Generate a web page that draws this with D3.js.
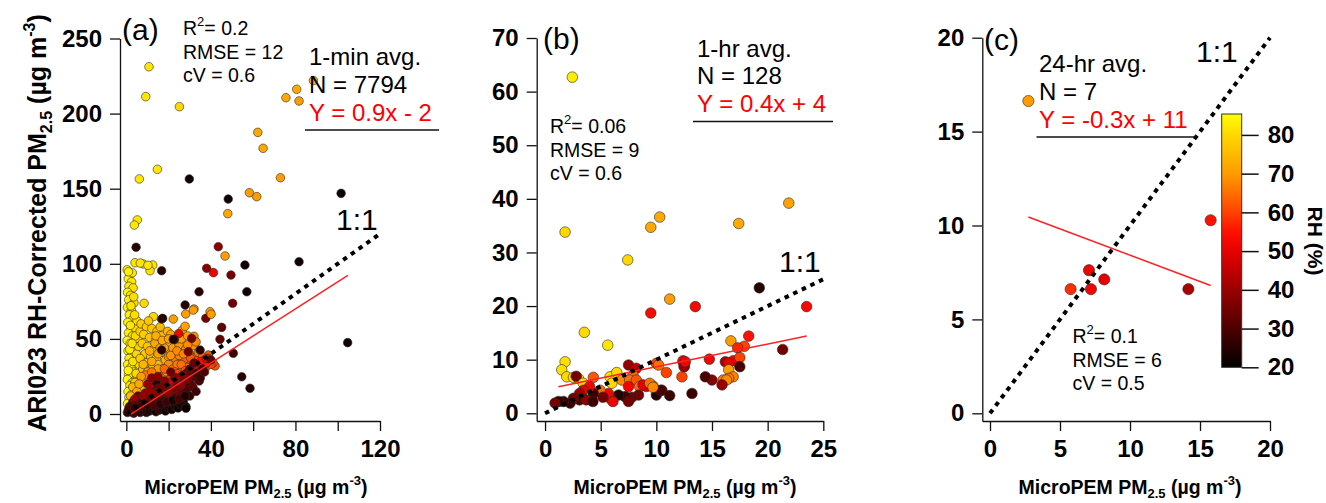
<!DOCTYPE html>
<html><head><meta charset="utf-8">
<script src="https://cdn.jsdelivr.net/npm/d3@7"></script>
<style>
body{margin:0;background:#fff}
svg{display:block}
text{font-family:"Liberation Sans",Arial,sans-serif}
</style>
</head><body>
<svg id="c" width="1326" height="503"></svg>
<script>
// ---------------- DATA ----------------
// [MicroPEM PM2.5, ARI023 PM2.5, RH %]
const aPoints = [
 // yellow column
 [0.4,96,84],[1.6,93,83],[0.9,90,84],[2.5,88,82],[1.2,85,83],[3.2,84,81],[0.6,81,84],[2.0,79,82],[1.1,76,83],[3.6,74,80],
 [0.5,71,84],[2.4,69,82],[1.4,66,83],[3.0,63,81],[0.7,61,84],[2.1,58,82],[4.2,57,80],[1.0,54,83],[2.9,52,81],[0.4,49,84],
 [1.8,47,83],[3.8,45,80],[0.8,42,84],[2.6,40,82],[1.3,37,83],[4.5,35,79],[0.6,33,84],[2.2,31,82],[3.4,28,81],[1.0,26,83],
 [0.5,23,84],[2.8,21,81],[1.7,19,82],[4.0,17,80],[0.8,15,84],[2.4,13,82],[1.2,11,83],[3.3,9,80],[0.6,7,84],[2.0,5,82],
 [1.4,3,83],[5.0,62,80],[5.5,50,79],[4.8,40,80],[6.0,33,79],[5.2,24,80],[3.9,66,81],[3.5,78,81],[2.2,72,82],[1.6,43,83],
 [0.9,29,84],[4.3,52,80],[5.8,45,79],[6.5,55,78],[3.1,35,81],[1.9,59,82],[4.6,27,80],[2.7,47,81],[2.8,94,82],[1.0,94.7,83],
 [4.1,100.7,82],[8.0,99.9,82],[12.5,99.2,81],[11.2,95.4,81],[6.6,100.5,82],[10.2,99,82],[8.4,73.7,80],[12.8,64.8,80],
 // yellow-orange
 [7.0,60,78],[9.5,58,78],[12.0,57,77],[14.5,55,76],[8.2,53,78],[11.0,51,77],[13.8,49,76],[16.5,52,75],[7.5,47,78],[10.0,45,77],
 [12.8,43,76],[15.5,45,75],[18.0,48,74],[8.8,40,77],[11.5,38,76],[14.2,37,75],[6.5,37,78],[17.5,41,74],[9.5,34,77],[12.5,32,75],
 [19.5,55,74],[16.0,58,75],[10.5,62,77],[20.5,46,73],[7.8,30,77],[15.0,33,75],[21.5,52,73],[18.5,36,73],[4,21,77],[6,11,76],[5,8,77],[7,19,76],
 // orange
 [13.5,47,72],[16,44,71],[19,42,70],[22,44,70],[25,46,69],[24,50,70],[21,53,71],[26.5,55.9,70],[22.2,63.2,70],[28.1,66.6,70],
 [32,69.9,70],[39.6,68.1,70],[27.8,58.4,71],[32,51.7,69],[32,45.5,69],[28,43,68],[30,40,66],[33,38,64],[36.3,34.6,62],[38.8,39.3,62],
 [42,32,62],[40,35,63],[35,31,63],[31,34,64],[27.3,36.3,63],[30.5,37.1,62],[23,37.1,66],[19.9,38.2,68],[25,39,67],[20,33,68],
 [17,30,69],[22,30,66],[26,28,64],[14,27,70],[11,25,71],[16,22,70],[18,26,68],[29,31,65],[24,33,66],[37.5,31,62],
 [34,36,63],[13,20,72],[9,22,73],[15.9,7.1,70],[17,9,70],[18,12,69],[19.5,15,68],[8,16,74],[10,13,73],[12,9,72],
 [12,35,72],[15,40,71],[18,44,70],[21,39,69],[24,42,68],[27,40,67],[29,46,68],[34,41,65],[36,38,64],[39,37,63],
 [41,34,62],[26,33,65],[23,28,66],[19,28,68],[15,30,70],[10,28,72],[8,33,74],[11,42,73],[14,52,73],[17,49,72],
 [20,50,71],[26,50,70],[29,52,70],[33,48,68],
 [9,26,66],[12,28,66],[7,25,70],[3,18,74],[5,15,72],[6,20,72],[2,12,76],[18,30,64],
 // orange-red and red
 [3,5,58],[9,8,60],[14,8,58],[20,9,60],[33,30,58],[40,33,60],[37,36,58],[24,27,60],[28,29,62],[21,24,58],
 [5,4,50],[8,6,52],[11,8,48],[14,11,52],[17,14,50],[20,17,54],[23,19,48],[25.4,20.4,52],[29.3,18.2,50],[27,23,52],
 [30,26,55],[33,28,50],[36,32,52],[38,34,55],[19,21,55],[15,16,54],[10,11,56],[41.2,94.1,52],[24.8,53.6,52],[18,10,46],
 [21,12,45],[12,14,44],[26,16,46],[31,22,44],[35,27,45],
 [6,9,52],[9,13,50],[12,12,54],[16,17,52],[22,22,50],[26,25,54],[29,27,52],[32,32,50],[35,35,54],[38,37,52],
 [13,18,48],[18,19,47],[24,21,46],[7,3,48],[16,4,46],
 // dark
 [3,8,32],[5.5,12,35],[8.5,9,30],[11,11,33],[14.4,20.4,26],[13,15,36],[16,13,34],[19.1,18.2,38],[21,15,35],[24,18,33],
 [26,22,30],[30,20,28],[32,25,30],[29,28,32],[23,24,36],[18,22,38],[15,17,35],[9,14,38],[6,6,35],[4,10,40],
 [10,20,40],[12,24,38],[36,30,30],[33,27,28],
 [1.5,5,30],[3,2,26],[4.5,6,33],[6,3,24],[7.5,8,30],[9,4,25],[10.5,9,34],[12,6,27],[13.5,10,32],[15,4,23],
 [16.5,9,30],[18,5,25],[19.5,11,33],[21,6,24],[22.5,13,30],[24,8,26],[25.5,14,34],[27,9,24],[28.5,16,30],[30,12,26],
 [31.5,18,32],[33,15,28],[34.5,22,30],[29,23,36],[26,19,38],[23,16,36],[20,14,38],[17,18,36],[14,14,38],[11,15,40],
 [8,12,40],[15,25,38],[21,28,34],[24,24,40],
 [27,26,38],[30,30,35],[32,34,33],[35,24,28],[37,28,30],[40,36,32],
 [0.5,1,28],[2,1.5,25],[3.5,0.5,30],[5,2,24],[6.5,1,27],[8,2.5,22],[9.5,1,26],[11,2,23],[12.5,3,25],[14,1.5,22],
 [15.5,2.5,28],[17,3.5,24],[18.5,2,22],[20,4,25],[21.5,3,23],[23,5,26],[24.5,4,22],[26,6,24],[1,3,30],[4,4,26],
 [7,5,28],[10,6,24],[13,5.5,30],[16,6.5,26],[19,8,28],[22,9,24],[25,10,30],[28,12,22],[28.2,4.9,22],[27.8,12,24],[28.2,3.8,22],
 // scattered outliers
 [16.7,42.6,25],[22.7,49.7,25],[22.2,49.7,24],[29.3,41.5,35],[34.9,42.6,25],[30.9,50.4,35],[27.8,72.6,25],[34.4,81.4,25],
 [16.7,63.2,25],[17.2,63.7,25],[16.7,95.4,25],[37.6,63.7,35],[38,97,38],[44.3,49.7,32],[45.1,57.7,32],[50.6,40.4,28],
 [50.3,73.7,35],[49.5,92.5,35],[54.6,24.8,25],[58.5,17.1,25],[57,81.4,22],[56.1,99.2,22],[81.7,101.4,22],[104.7,47.5,22],
 [29.8,156.5,22],[48.2,143.1,22],[101.6,146.9,22],[4.6,111,25],[43.5,111.4,38],
 [46.7,105.2,70],[48,133.4,72],[58.2,147.3,70],[61.7,144.7,70],[62.2,187.5,72],[64.7,176.9,72],[72.9,157.3,70],
 [75.5,210.6,72],[80.6,216.2,72],[81.7,208.4,70],[88.5,222,74],[31.7,69.2,70],[40.1,66.4,70],
 [10.7,231.2,82],[9.2,211.3,82],[25.1,204.6,80],[14.7,162.9,82],[6.15,156.5,82],[5.2,129.2,82],[3.8,125.8,82]
];
const bPoints = [
 [2.45,62.7,83],[1.8,33.8,80],[9.5,34.7,72],[10.3,36.6,72],[17.4,35.4,72],[21.9,39.2,71],[7.43,28.6,80],[11.2,21.3,70],
 [9.5,18.7,53],[13.5,19.9,53],[19.25,23.4,25],[23.5,19.9,53],[3.53,15.1,80],[5.63,12.7,82],[21.35,11.9,35],[16.7,13.5,70],
 [18.3,14.4,55],[17.9,12.5,60],[17.3,12.2,57],
 [1.8,9.6,81],[1.5,8.1,81],[1.95,6.8,80],[2.55,6.7,81],[3.0,6.5,80],[2.8,6.9,35],[3.44,5.6,81],[4.34,6.7,62],[5.84,6.8,81],
 [6.44,7.6,80],[6.0,5.6,80],[6.9,6.2,68],[7.5,9.0,40],[8.2,8.4,45],[7.9,7.1,65],[7.6,6.2,65],[8.2,6.2,62],[7.5,5.0,52],
 [8.5,5.0,65],[9.1,5.0,50],[9.7,5.1,68],[10.0,9.3,60],[10.9,7.6,60],[12.3,6.8,60],[12.4,9.6,52],[12.5,8.8,40],[10.5,4.3,28],
 [10.0,3.4,25],[8.4,3.4,35],[7.8,3.0,35],[7.2,3.1,28],[6.6,3.4,25],[5.84,2.8,50],[5.7,3.7,52],[4.94,4.3,65],[5.2,3.0,35],
 [4.34,3.7,28],[4.0,5.0,52],[3.44,4.3,50],[3.1,3.7,40],[3.1,2.5,30],[2.55,2.8,35],[2.25,1.9,28],[1.65,2.2,28],[1.2,2.2,26],
 [0.9,1.9,35],[3.7,2.5,38],[4.3,2.2,28],[6.1,2.2,52],[7.5,2.2,35],
 [12.4,9.8,52],[12.5,8.7,40],[14.76,10.1,52],[16.2,9.6,42],[16.9,9.8,52],[16.5,9.4,50],[17.5,10.4,60],[17.5,8.7,30],
 [16.5,8.1,70],[16.9,6.8,67],[16.5,6.5,66],[16.0,6.2,66],[16.3,6.2,68],[15.9,5.3,40],[15.0,6.2,38],[14.4,6.8,30],
 [13.2,3.7,28],[11.2,3.3,28],[10.4,4.3,30],[8.8,5.3,50],[9.4,5.6,65],[9.7,4.85,68],[10.2,9.0,65],[12.6,9.6,52]
];
const cPoints = [
 [2.74,16.63,70],[15.76,10.28,55],[7.07,7.62,52],[8.16,7.13,50],[5.76,6.61,58],[7.21,6.61,52],[14.17,6.61,42]
];
// linear fits [slope, intercept, xStart, xEnd]
const aFit = [0.9, -2, 2.2, 104.8];
const bFit = [0.424, 4.44, 1.2, 23.5];
const cFit = [-0.28, 11.22, 2.74, 15.76];
// tick values
const aXTicks = [0,20,40,60,80,100,120], aXLabels = [0,40,80,120], aYTicks = [0,50,100,150,200,250];
const bXTicks = [0,5,10,15,20,25], bYTicks = [0,10,20,30,40,50,60,70];
const cXTicks = [0,5,10,15,20], cYTicks = [0,5,10,15,20];
const rhTicks = [20,30,40,50,60,70,80];
const rhStops  = [20,30,40,50,55,60,70,80,85.4];
const rhColors = ["#000000","#4d0000","#9a0000","#e60000","#ff1000","#ff4200","#ff9c00","#ffd800","#ffff00"];

// ---------------- DRAW ----------------
const svg = d3.select("#c");
const color = d3.scaleLinear().domain(rhStops).range(rhColors).clamp(true);

function panel(o){
  const x = d3.scaleLinear().domain(o.xd).range(o.xr);
  const y = d3.scaleLinear().domain(o.yd).range(o.yr);
  const g = svg.append("g");
  g.append("g").selectAll("circle").data(o.pts).join("circle")
    .attr("cx", d => x(d[0])).attr("cy", d => y(d[1])).attr("r", o.r)
    .attr("fill", d => color(d[2])).attr("stroke", "#2a2a2a").attr("stroke-width", 0.6);
  const f = o.fit;
  g.append("path").datum([f[2], f[3]])
    .attr("d", d3.line().x(v => x(v)).y(v => y(f[0]*v + f[1])))
    .attr("stroke", "#ff2020").attr("stroke-width", 1.5).attr("fill", "none");
  g.append("path").datum([0, o.one])
    .attr("d", d3.line().x(v => x(v)).y(v => y(v)))
    .attr("stroke", "#000").attr("stroke-width", 4).attr("stroke-dasharray", "4.5,5").attr("fill", "none");
  const ax = g.append("g").attr("transform", `translate(0,${o.yr[0]})`)
    .call(d3.axisBottom(x).tickValues(o.xt).tickSize(10).tickSizeOuter(0).tickPadding(9)
      .tickFormat(d => o.xl.includes(d) ? d : ""));
  const ay = g.append("g").attr("transform", `translate(${o.xr[0]},0)`)
    .call(d3.axisLeft(y).tickValues(o.yt).tickSize(10).tickSizeOuter(0).tickPadding(8));
  [ax, ay].forEach(a => {
    a.selectAll("path,line").attr("stroke", "#111").attr("stroke-width", 1.3);
    a.selectAll("text").style("font-size", "24px").style("font-weight", "bold")
      .style("font-family", '"Liberation Sans",Arial,sans-serif').attr("fill", "#000");
  });
  const xt = g.append("text").attr("x", o.xtc).attr("y", 494).attr("text-anchor", "middle")
    .style("font-size", "19.5px").style("font-weight", "bold").style("fill", "#000");
  xt.append("tspan").text("MicroPEM PM");
  xt.append("tspan").attr("dy", 4).style("font-size", "13px").text("2.5");
  xt.append("tspan").attr("dy", -4).text(" (µg m");
  xt.append("tspan").attr("dy", -9).style("font-size", "13px").text("-3");
  xt.append("tspan").attr("dy", 9).text(")");
  return {x, y, g};
}

function stats(g, x0, y0, lines){
  lines.forEach((l, i) => {
    const t = g.append("text").attr("x", x0).attr("y", y0 + i*23.5).style("font-size", "19.5px").style("fill", "#000");
    if (l.startsWith("R2")) {
      t.append("tspan").text("R");
      t.append("tspan").attr("dy", -9).style("font-size", "13px").text("2");
      t.append("tspan").attr("dy", 9).text(l.slice(2));
    } else t.text(l);
  });
}
function label(g, x0, y0, txt, size, fill){
  g.append("text").attr("x", x0).attr("y", y0).style("font-size", size + "px").style("fill", fill || "#000").text(txt);
}
function underline(g, x1, x2, yy){
  g.append("line").attr("x1", x1).attr("x2", x2).attr("y1", yy).attr("y2", yy).attr("stroke", "#111").attr("stroke-width", 1.3);
}

// Panel (a)
const A = panel({pts: aPoints, r: 4.3, fit: aFit, one: 120,
  xd: [-3.0, 120], xr: [120, 380], yd: [-4.66, 250], yr: [421, 38.5],
  xt: aXTicks, xl: aXLabels, yt: aYTicks, xtc: 256});
label(A.g, 122, 40, "(a)", 30);
stats(A.g, 183, 35, ["R2= 0.2", "RMSE = 12", "cV = 0.6"]);
label(A.g, 309, 65, "1-min avg.", 24);
label(A.g, 309, 93, "N = 7794", 24);
label(A.g, 309, 121, "Y = 0.9x - 2", 24, "#ff0000");
underline(A.g, 305, 439, 130);
label(A.g, 336, 230, "1:1", 30);

// Panel (b)
const B = panel({pts: bPoints, r: 5.3, fit: bFit, one: 25,
  xd: [-0.75, 25], xr: [536.7, 823.3], yd: [-1.44, 70], yr: [421, 38],
  xt: bXTicks, xl: bXTicks, yt: bYTicks, xtc: 685});
label(B.g, 543, 49, "(b)", 30);
stats(B.g, 550, 133, ["R2= 0.06", "RMSE = 9", "cV = 0.6"]);
label(B.g, 697, 57, "1-hr avg.", 24);
label(B.g, 697, 84, "N = 128", 24);
label(B.g, 697, 112, "Y = 0.4x + 4", 24, "#ff0000");
underline(B.g, 693, 833, 121.5);
label(B.g, 779, 272, "1:1", 30);

// Panel (c)
const C = panel({pts: cPoints, r: 5.6, fit: cFit, one: 20,
  xd: [-0.55, 20], xr: [982.3, 1270], yd: [-0.41, 20], yr: [421, 37.7],
  xt: cXTicks, xl: cXTicks, yt: cYTicks, xtc: 1130});
label(C.g, 984, 50, "(c)", 30);
stats(C.g, 1072.5, 343, ["R2= 0.1", "RMSE = 6", "cV = 0.5"]);
label(C.g, 1039, 71.5, "24-hr avg.", 24);
label(C.g, 1039, 99.5, "N = 7", 24);
label(C.g, 1039, 127.5, "Y = -0.3x + 11", 24, "#ff0000");
underline(C.g, 1036.5, 1196.5, 137);
label(C.g, 1196, 61.5, "1:1", 30);

// Colorbar
const cb = d3.scaleLinear().domain([20, 85.4]).range([367.3, 114]);
const defs = svg.append("defs");
const grad = defs.append("linearGradient").attr("id", "rhg").attr("x1", 0).attr("x2", 0).attr("y1", 1).attr("y2", 0);
rhStops.forEach((s, i) => grad.append("stop").attr("offset", (s - 20) / (85.4 - 20)).attr("stop-color", rhColors[i]));
svg.append("rect").attr("x", 1221.7).attr("y", cb(85.4)).attr("width", 20).attr("height", cb(20) - cb(85.4))
  .attr("fill", "url(#rhg)").attr("stroke", "#333").attr("stroke-width", 1);
const cax = svg.append("g").attr("transform", "translate(1241.7,0)")
  .call(d3.axisRight(cb).tickValues(rhTicks).tickSize(17).tickPadding(9).tickSizeOuter(0));
cax.select(".domain").remove();
cax.selectAll("line").attr("stroke", "#111").attr("stroke-width", 1.5);
cax.selectAll("text").style("font-size", "24px").style("font-weight", "bold")
  .style("font-family", '"Liberation Sans",Arial,sans-serif').attr("fill", "#000");
svg.append("text").attr("transform", "translate(1308,241) rotate(90)").attr("text-anchor", "middle")
  .style("font-size", "21px").style("font-weight", "bold").style("fill", "#000").text("RH (%)");

// Y title (panel a)
const yt = svg.append("text").attr("transform", "translate(46,223) rotate(-90)").attr("text-anchor", "middle")
  .style("font-size", "25px").style("font-weight", "bold").style("fill", "#000");
yt.append("tspan").text("ARI023 RH-Corrected PM");
yt.append("tspan").attr("dy", 6).style("font-size", "16px").text("2.5");
yt.append("tspan").attr("dy", -6).text(" (µg m");
yt.append("tspan").attr("dy", -11).style("font-size", "16px").text("-3");
yt.append("tspan").attr("dy", 11).text(")");
</script>
</body></html>
